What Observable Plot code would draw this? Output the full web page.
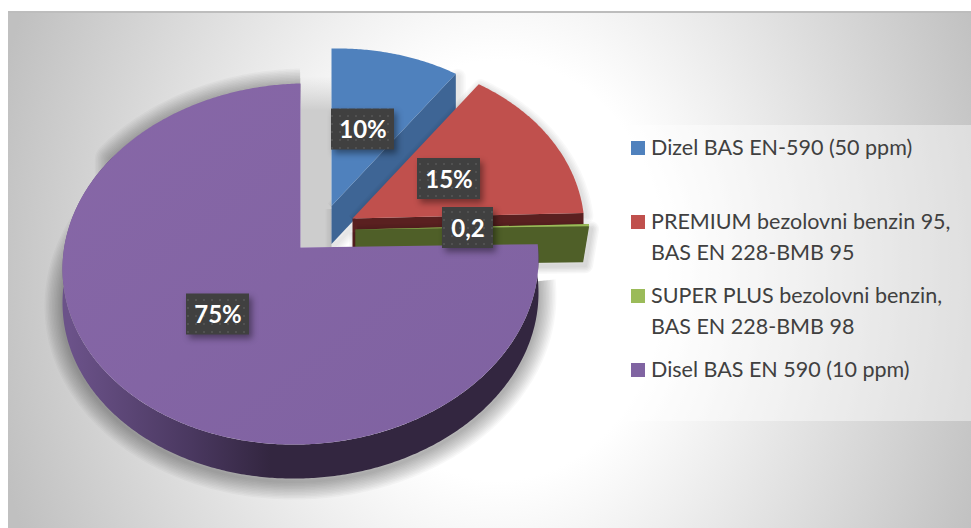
<!DOCTYPE html>
<html><head><meta charset="utf-8">
<script src="https://cdn.jsdelivr.net/npm/d3@7"></script>
<script src="https://cdn.jsdelivr.net/npm/@observablehq/plot@0.6"></script>
<style>
html,body{margin:0;padding:0;background:#fff;overflow:hidden}
#panel{position:absolute;left:8px;top:11px;width:963px;height:517px;box-sizing:border-box;border-top:2px solid #bdbdbd;
background:radial-gradient(560px 700px at 51% 50%,#fff 30%,#c0c0c0 93%)}
#chart{position:absolute;left:0;top:0}
svg{background:transparent!important}
</style></head><body><div id="panel"></div><div id="chart"></div>
<script>
// ---- data ----
const categories = ["Dizel BAS EN-590 (50 ppm)", "PREMIUM bezolovni benzin 95,\nBAS EN 228-BMB 95", "SUPER PLUS bezolovni benzin,\nBAS EN 228-BMB 98", "Disel BAS EN 590 (10 ppm)"];
const values = [10, 15, 0.2, 75];
const labels = ["10%", "15%", "0,2", "75%"];

// ---- layout and style ----
const topColors = ["#4f81bd", "#c0504d", "#9bbb59", "url(#purpleTop)"];
const wallColors = ["#3e6595", "#5a2020", "#4f5f28", "url(#purpleWall)"];
const swatchColors = ["#4f81bd", "#c0504d", "#9bbb59", "#8064a2"];
const apexX = [331, 352, 355, 300];
const apexY = [205.5, 218, 229, 247];
const radiusScale = [0.96, 0.975, 0.985, 1];
const depth = [38, 37, 36, 34];
const labelX = [362.5, 448.5, 467.5, 217.5];
const labelY = [129, 178.5, 227.5, 314];
const labelW = [63, 63, 51, 63];
const labelH = 41;
const legendY = [148, 222, 296, 370];
const A = 237, B = 179, K = 0.0914, S = 5;

const total = d3.sum(values);
const ends = Array.from(d3.cumsum(values), v => v / total * 2 * Math.PI);
const starts = ends.map((e, i) => e - values[i] / total * 2 * Math.PI);
function project(i, t) {
  const u = Math.sin(t), v = Math.cos(t), w = 1 + K * v, q = radiusScale[i];
  return [apexX[i] + q * A * u / w, apexY[i] - q * (B * v + S * u) / w];
}
function arc(i, t0, t1) {
  const n = Math.max(2, Math.ceil((t1 - t0) / 0.01));
  return d3.range(n + 1).map(j => project(i, t0 + (t1 - t0) * j / n));
}
const down = (p, d) => p.map(([x, y]) => [x, y + d]);
function poly(points, fill) {
  return Plot.line(points, {x: d => d[0], y: d => d[1], fill, stroke: "none", curve: "linear"});
}
function softEdge(points, widths, opacity, dx, dy) {
  return widths.map(w => Plot.line(points, {x: d => d[0] + dx, y: d => d[1] + dy, stroke: "#000", strokeOpacity: opacity, strokeWidth: w, strokeLinejoin: "round", strokeLinecap: "butt"}));
}
const closed = p => [...p, p[0]];
function faces(i) {
  return [[apexX[i], apexY[i]], ...arc(i, starts[i], ends[i])];
}
function radialWall(i, t, inset = 0) {
  const a = [apexX[i], apexY[i]], b = project(i, t);
  return [a, b, [b[0] - inset, b[1] + depth[i]], [a[0], a[1] + depth[i]]];
}
const wallBreak = 5.3;
const outerPurple = arc(3, starts[3], wallBreak);
const purpleWall = [...outerPurple, ...down(outerPurple, depth[3]).reverse()];
const purpleOutline = [...down(outerPurple, depth[3]), ...arc(3, wallBreak, ends[3])];
const gap = [[apexX[3], 76], [apexX[0], 76], [apexX[0], apexY[3]], [apexX[3], apexY[3]]];

const labelRows = labels.map((t, i) => ({t, x: labelX[i], y: labelY[i], w: labelW[i]}));
const swatches = categories.map((c, i) => ({y: legendY[i], c: swatchColors[i]}));
const legendRows = categories.flatMap((c, i) => c.split("\n").map((t, j) => ({t, y: legendY[i] + j * 30.5})));

const edgeWidths = [16, 13, 10, 7, 4];
const pieWidths = [36, 33, 30, 27, 24, 21, 18, 15, 12, 9, 6, 3];
const plot = Plot.plot({
  width: 971, height: 528, margin: 0,
  x: {domain: [0, 971], range: [0, 971], axis: null},
  y: {domain: [0, 528], range: [0, 528], axis: null},
  style: {background: "transparent"},
  marks: [
    softEdge(purpleOutline, pieWidths, 0.026, 0, 3),
    poly(gap, "url(#gapFill)"),
    softEdge(closed(radialWall(0, ends[0])), edgeWidths, 0.018, 2, 3),
    poly(radialWall(0, ends[0]), wallColors[0]),
    poly(faces(0), topColors[0]),
    softEdge(closed(faces(1)), edgeWidths, 0.024, 2, 3),
    poly(radialWall(1, ends[1]), wallColors[1]),
    poly(faces(1), topColors[1]),
    softEdge(closed(radialWall(2, ends[2], 6)), edgeWidths, 0.03, 2, 3),
    poly(radialWall(2, starts[2], 6), wallColors[2]),
    poly(radialWall(2, ends[2], 6), wallColors[2]),
    poly(faces(2), topColors[2]),
    poly(purpleWall, wallColors[3]),
    poly(faces(3), topColors[3]),
    Plot.rect(labelRows, {x1: d => d.x - d.w / 2, x2: d => d.x + d.w / 2, y1: d => d.y - labelH / 2, y2: d => d.y + labelH / 2, fill: "url(#dots)"}),
    Plot.text(labelRows, {x: "x", y: "y", text: "t", fill: "#fff", fontSize: 24, fontWeight: 700, fontFamily: "Lato", dy: 1}),
    Plot.rect([0], {x1: 614, x2: 971, y1: 125, y2: 421, fill: "#fff", fillOpacity: 0.42}),
    Plot.rect(swatches, {x1: 631, x2: 645, y1: d => d.y - 7, y2: d => d.y + 7, fill: "c"}),
    Plot.text(legendRows, {x: 650.5, y: "y", text: "t", fill: "#404040", textAnchor: "start", fontSize: 21.5, fontFamily: "Lato"})
  ]
});
const svg = plot.tagName.toLowerCase() === "svg" ? plot : plot.querySelector("svg");
svg.insertAdjacentHTML("afterbegin", `<defs>
<linearGradient id="purpleTop" x1="0" x2="1" y1="0" y2="1"><stop offset="0" stop-color="#8767a7"/><stop offset="1" stop-color="#7f62a1"/></linearGradient>
<linearGradient id="purpleWall" gradientUnits="userSpaceOnUse" x1="70" x2="270" y1="0" y2="0"><stop offset="0" stop-color="#6b5289"/><stop offset="0.6" stop-color="#4a3860"/><stop offset="1" stop-color="#332640"/></linearGradient>
<linearGradient id="gapFill" gradientUnits="userSpaceOnUse" x1="0" x2="0" y1="76" y2="110"><stop offset="0" stop-color="#cfcfcf" stop-opacity="0"/><stop offset="1" stop-color="#cdcdcd"/></linearGradient>
<pattern id="dots" patternUnits="userSpaceOnUse" width="8" height="8"><rect width="8" height="8" fill="#404040"/><circle cx="4" cy="4" r="1" fill="#565656"/></pattern>
</defs>`);
const box = svg.querySelector('g[fill="url(#dots)"]');
if (box) box.style.filter = "drop-shadow(3px 4px 3px rgba(0,0,0,.4))";
document.getElementById("chart").appendChild(plot);
</script></body></html>
